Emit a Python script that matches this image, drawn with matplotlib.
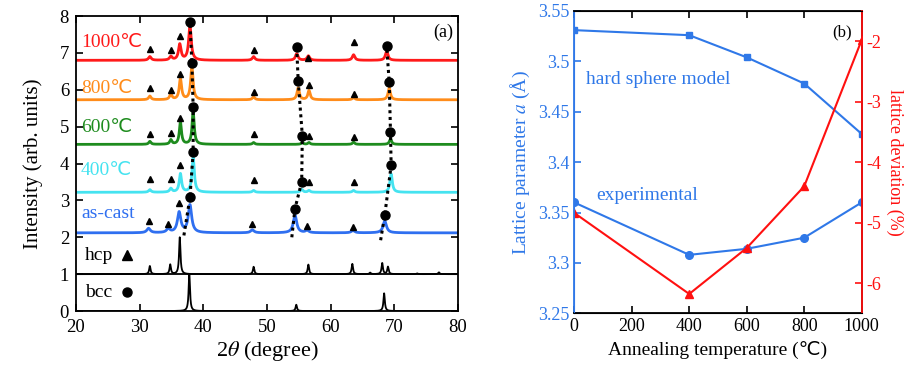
import numpy as np
import matplotlib
matplotlib.use("Agg")
import matplotlib.pyplot as plt

plt.rcParams['font.family'] = ['Liberation Serif', 'DejaVu Sans', 'Noto Sans CJK JP']
plt.rcParams['mathtext.fontset'] = 'stix'
plt.rcParams['axes.unicode_minus'] = False

# ---------------- (a) XRD patterns ----------------
samples = ["as-cast", "400℃", "600℃", "800℃", "1000℃"]
sample_colors = ["#2f6ff0", "#45e3f0", "#1e8c1e", "#ff8c1a", "#ff1a1a"]
baselines = [2.12, 3.22, 4.52, 5.73, 6.80]
label_y = [2.65, 3.80, 4.97, 6.03, 7.27]

# hcp reflections observed in each sample (position, height above baseline)
hcp_pos = [
    [31.4, 34.5, 36.2, 47.7, 56.3, 63.5],
    [31.6, 34.9, 36.4, 47.9, 56.6, 63.6],
    [31.6, 34.9, 36.4, 47.9, 56.6, 63.6],
    [31.6, 34.9, 36.4, 47.9, 56.6, 63.6],
    [31.6, 34.9, 36.3, 47.9, 56.5, 63.6],
]
hcp_height = [
    [0.12, 0.10, 0.55, 0.08, 0.06, 0.06],
    [0.07, 0.10, 0.50, 0.05, 0.05, 0.05],
    [0.08, 0.12, 0.60, 0.05, 0.05, 0.06],
    [0.10, 0.15, 0.57, 0.08, 0.25, 0.06],
    [0.10, 0.10, 0.43, 0.10, 0.12, 0.15],
]
hcp_mark_y = [
    [2.44, 2.37, 2.93, 2.37, 2.30, 2.28],
    [3.58, 3.58, 3.95, 3.55, 3.50, 3.50],
    [4.80, 4.82, 5.23, 4.80, 4.76, 4.73],
    [6.05, 6.00, 6.44, 5.95, 6.13, 5.90],
    [7.10, 7.07, 7.45, 7.07, 6.85, 7.30],
]

# bcc reflections observed in each sample
bcc_pos = [
    [37.9, 54.4, 68.5],
    [38.4, 55.45, 69.5],
    [38.4, 55.55, 69.4],
    [38.2, 54.9, 69.2],
    [37.9, 54.67, 68.8],
]
bcc_height = [
    [0.75, 0.48, 0.32],
    [0.95, 0.08, 0.50],
    [0.90, 0.05, 0.15],
    [0.92, 0.32, 0.32],
    [0.95, 0.18, 0.25],
]
bcc_mark_y = [
    [3.08, 2.78, 2.60],
    [4.30, 3.50, 3.95],
    [5.54, 4.76, 4.85],
    [6.74, 6.24, 6.20],
    [7.85, 7.16, 7.19],
]
peak_hwhm = [0.32, 0.22, 0.2, 0.22, 0.24]

# start points of the dotted guides that follow the bcc peaks
guide_start_x = [36.95, 53.9, 67.85]
guide_start_y = [2.05, 2.00, 1.92]

# reference patterns
hcp_ref_pos = [31.6, 34.8, 36.3, 47.9, 56.5, 63.4, 66.2, 68.1, 69.0, 73.6, 77.0]
hcp_ref_height = [0.22, 0.26, 1.00, 0.20, 0.26, 0.28, 0.04, 0.30, 0.20, 0.02, 0.05]
bcc_ref_pos = [37.8, 54.6, 68.4]
bcc_ref_height = [1.00, 0.17, 0.48]


def profile(x, pos, height, hwhm):
    y = np.zeros_like(x)
    for p, h in zip(pos, height):
        y += h / (1.0 + ((x - p) / hwhm) ** 2)
    return y


fig = plt.figure(figsize=(9.2, 3.74), dpi=100)
ax = fig.add_axes([0.0826, 0.1684, 0.4152, 0.7886])
x = np.linspace(20, 80, 4000)

# reference patterns
ax.plot(x, 1.0 + profile(x, hcp_ref_pos, hcp_ref_height, 0.13), color="black", lw=1.3)
ax.plot(x, 0.0 + profile(x, bcc_ref_pos, bcc_ref_height, 0.13), color="black", lw=1.3)
ax.axhline(1.0, color="black", lw=1.3)

for i in range(len(samples)):
    y = baselines[i] + profile(x, hcp_pos[i], hcp_height[i], peak_hwhm[i]) \
        + profile(x, bcc_pos[i], bcc_height[i], peak_hwhm[i])
    ax.plot(x, y, color=sample_colors[i], lw=2.0)
    ax.text(20.8, label_y[i], samples[i], color=sample_colors[i], fontsize=14,
            va="center", ha="left")
    ax.plot(hcp_pos[i], hcp_mark_y[i], ls="none", marker="^", color="black", ms=5)
    ax.plot(bcc_pos[i], bcc_mark_y[i], ls="none", marker="o", color="black", ms=6.5)

for k in range(3):
    gx = [guide_start_x[k]] + [bcc_pos[i][k] for i in range(len(samples))]
    gy = [guide_start_y[k]] + [bcc_mark_y[i][k] for i in range(len(samples))]
    ax.plot(gx, gy, ls=(0, (1, 1.2)), color="black", lw=2.2)

ax.text(21.4, 1.5, "hcp", fontsize=14, va="center")
ax.plot([28.0], [1.52], marker="^", color="black", ms=6.5)
ax.text(21.4, 0.5, "bcc", fontsize=14, va="center")
ax.plot([28.0], [0.52], marker="o", color="black", ms=6.5)
ax.text(79.3, 7.55, "(a)", fontsize=13, ha="right", va="center")

ax.set_xlim(20, 80)
ax.set_ylim(0, 8)
ax.set_xticks(range(20, 81, 10))
ax.set_yticks(range(0, 9))
ax.tick_params(direction="in", top=True, right=True, labelsize=13.5, width=1.2, length=5)
ax.tick_params(axis="x", pad=6)
ax.tick_params(axis="y", pad=5)
for s in ax.spines.values():
    s.set_linewidth(1.3)
ax.set_xlabel(r"2$\theta$ (degree)", fontsize=16, labelpad=2)
ax.set_ylabel("Intensity (arb. units)", fontsize=15, labelpad=12)

# ---------------- (b) lattice parameter ----------------
temperature = [0, 400, 600, 800, 1000]
a_hard_sphere = [3.531, 3.526, 3.504, 3.478, 3.428]
a_experimental = [3.360, 3.308, 3.314, 3.325, 3.360]
deviation = [-4.84, -6.18, -5.42, -4.40, -1.98]

blue = "#2f78e8"
red = "#ff1010"

bx = fig.add_axes([0.6242, 0.1623, 0.3124, 0.8083])
bx.plot(temperature, a_hard_sphere, color=blue, marker="s", ms=5, lw=1.5)
bx.plot(temperature, a_experimental, color=blue, marker="o", ms=5.5, lw=1.5)
bx.set_xlim(0, 1000)
bx.set_ylim(3.25, 3.55)
bx.set_xticks(range(0, 1001, 200))
bx.set_yticks([3.25, 3.3, 3.35, 3.4, 3.45, 3.5, 3.55])
bx.set_yticklabels(["3.25", "3.3", "3.35", "3.4", "3.45", "3.5", "3.55"])
bx.tick_params(axis="x", direction="in", top=True, labelsize=13, width=1.2, length=5)
bx.tick_params(axis="y", direction="in", colors=blue, labelsize=13, width=1.2, length=5)
bx.set_xlabel("Annealing temperature (℃)", fontsize=14)
bx.set_ylabel(r"Lattice parameter $a$ (Å)", fontsize=14, color=blue)
bx.text(40, 3.482, "hard sphere model", color=blue, fontsize=14, va="center")
bx.text(78, 3.367, "experimental", color=blue, fontsize=14, va="center")
bx.text(966, 3.529, "(b)", fontsize=12, ha="right", va="center")

rx = bx.twinx()
rx.plot(temperature, deviation, color=red, marker="^", ms=5.5, lw=1.5)
rx.set_ylim(-6.5, -1.5)
rx.set_yticks([-6, -5, -4, -3, -2])
rx.tick_params(axis="y", direction="in", colors=red, labelsize=13, width=1.2, length=5)
rx.set_ylabel("lattice deviation (%)", fontsize=13, color=red, rotation=270, labelpad=16)

for s in bx.spines.values():
    s.set_linewidth(1.3)
bx.spines["left"].set_color(blue)
rx.spines["left"].set_color(blue)
rx.spines["right"].set_color(red)
rx.spines["right"].set_linewidth(1.3)

fig.savefig("out.png", dpi=100)
